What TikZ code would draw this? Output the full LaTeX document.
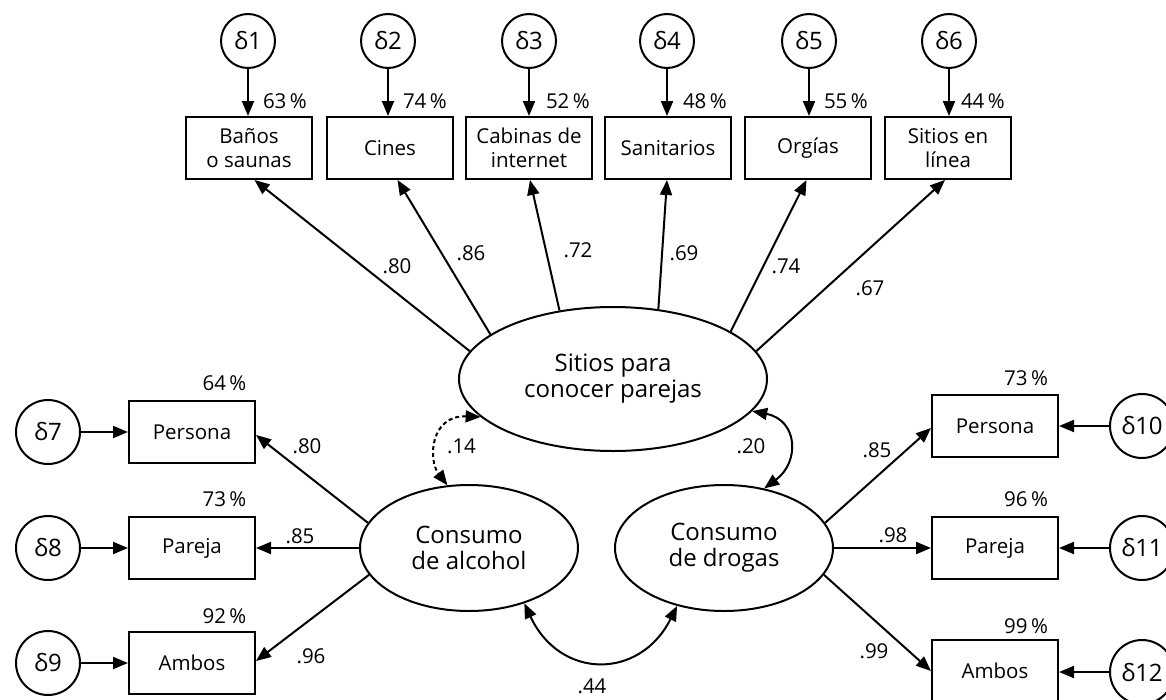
\documentclass[tikz,border=0pt]{standalone}
\usepackage{fontspec}
\setmainfont{Open Sans}
\newfontfamily\grk{Open Sans}
\usetikzlibrary{arrows.meta,shapes.geometric}
\newcommand\mytxt{\fontsize{20.5}{24.5}\selectfont}
\newcommand\bigtxt{\fontsize{24}{26}\selectfont}
\tikzset{
 obs/.style={draw, rectangle, minimum width=126pt, minimum height=62pt, inner sep=0pt, align=center, font=\mytxt},
 lat/.style={draw, ellipse, inner sep=0pt, align=center, font=\bigtxt},
 errs/.style={draw, circle, minimum size=54pt, inner sep=0pt, font=\bigtxt},
 errb/.style={draw, circle, minimum size=64pt, inner sep=0pt, font=\bigtxt},
 arr/.style={-{Triangle[length=15pt,width=12pt]}},
 darr/.style={{Triangle[length=15pt,width=12pt]}-{Triangle[length=15pt,width=12pt]}},
 lbl/.style={font=\mytxt, inner sep=0pt, anchor=base},
 pct/.style={font=\mytxt, inner sep=0pt, anchor=base west},
}
\begin{document}
\begin{tikzpicture}[x=1pt,y=-1pt,line width=2pt]
\useasboundingbox (0,0) rectangle (1166,699);
% top indicators
\node[obs] (b1) at (249,148) {Baños\\o saunas};
\node[obs] (b2) at (390,148) {Cines};
\node[obs] (b3) at (529,148) {Cabinas de\\internet};
\node[obs] (b4) at (668,148) {Sanitarios};
\node[obs] (b5) at (808,148) {Orgías};
\node[obs] (b6) at (948,148) {Sitios en\\línea};
\node[errs] (d1) at (248,41) {{\grk δ}1};
\node[errs] (d2) at (388,41) {{\grk δ}2};
\node[errs] (d3) at (529,41) {{\grk δ}3};
\node[errs] (d4) at (667,41) {{\grk δ}4};
\node[errs] (d5) at (809,41) {{\grk δ}5};
\node[errs] (d6) at (949,41) {{\grk δ}6};
\foreach \i in {1,...,6} {\draw[arr] (d\i.south) -- (d\i.south |- b\i.north);}
\node[pct] (p1) at (262,108) {63\,\%};
\node[pct] (p2) at (402,108) {74\,\%};
\node[pct] (p3) at (545,108) {52\,\%};
\node[pct] (p4) at (682,108) {48\,\%};
\node[pct] (p5) at (823,108) {55\,\%};
\node[pct] (p6) at (960,108) {44\,\%};
% latent variables
\node[lat, minimum width=308pt, minimum height=144pt] (c) at (613,379) {Sitios para\\conocer parejas};
\node[lat, minimum width=218pt, minimum height=126pt] (alc) at (469,548) {Consumo\\de alcohol};
\node[lat, minimum width=218pt, minimum height=126pt] (drg) at (724,548) {Consumo\\de drogas};
% top loadings
\draw[arr] (c.169) -- ([xshift=5.5pt]b1.south);
\draw[arr] (c.160) -- ([xshift=7.5pt]b2.south);
\draw[arr] (c.128) -- ([xshift=1pt]b3.south);
\draw[arr] (c.57) -- ([xshift=-1pt]b4.south);
\draw[arr] (c.22) -- ([xshift=-1.5pt]b5.south);
\draw[arr] (c.11) -- ([xshift=-3pt]b6.south);
\node[lbl] (t1) at (397,273) {.80};
\node[lbl] (t2) at (471,260) {.86};
\node[lbl] (t3) at (578,257) {.72};
\node[lbl] (t4) at (684,260) {.69};
\node[lbl] (t5) at (786,273) {.74};
\node[lbl] (t6) at (870,295) {.67};
% left indicators
\node[obs] (pl) at (192,432) {Persona};
\node[obs] (pp) at (192,548) {Pareja};
\node[obs] (pa) at (192,663) {Ambos};
\node[errb] (d7) at (48,432) {{\grk δ}7};
\node[errb] (d8) at (48,548) {{\grk δ}8};
\node[errb] (d9) at (48,663) {{\grk δ}9};
\draw[arr] (d7.east) -- (d7.east -| pl.west);
\draw[arr] (d8.east) -- (d8.east -| pp.west);
\draw[arr] (d9.east) -- (d9.east -| pa.west);
\node[lbl] (q1) at (224.5,390) {64\,\%};
\node[lbl] (q2) at (224.5,506.7) {73\,\%};
\node[lbl] (q3) at (224.5,623) {92\,\%};
\draw[arr] (alc.166) -- ([yshift=-3pt]pl.east);
\draw[arr] (alc.west) -- (alc.west -| pp.east);
\draw[arr] (alc.195) -- ([yshift=2pt]pa.east);
\node[lbl] (l1) at (307,453) {.80};
\node[lbl] (l2) at (300,543) {.85};
\node[lbl] (l3) at (311,663) {.96};
% right indicators
\node[obs] (rp) at (995,426) {Persona};
\node[obs] (rq) at (995,548) {Pareja};
\node[obs] (ra) at (995,671) {Ambos};
\node[errb] (d10) at (1142,426) {{\grk δ}10};
\node[errb] (d11) at (1142,548) {{\grk δ}11};
\node[errb] (d12) at (1142,672) {{\grk δ}12};
\draw[arr] (d10.west) -- (d10.west -| rp.east);
\draw[arr] (d11.west) -- (d11.west -| rq.east);
\draw[arr] (d12.west) -- (d12.west -| ra.east);
\node[lbl] (r1) at (1026,385) {73\,\%};
\node[lbl] (r2) at (1026,506.7) {96\,\%};
\node[lbl] (r3) at (1026,633) {99\,\%};
\draw[arr] (drg.14) -- ([yshift=-2pt]rp.west);
\draw[arr] (drg.east) -- (drg.east -| rq.west);
\draw[arr] (drg.-15) -- (ra.west);
\node[lbl] (m1) at (877,457) {.85};
\node[lbl] (m2) at (893,542) {.98};
\node[lbl] (m3) at (874,658) {.99};
% correlations
\draw[darr, dash pattern=on 4pt off 3pt] (c.196) .. controls (430,415) and (428,460) .. (alc.109);
\draw[darr] (c.-13) .. controls (798,420) and (800,462) .. (drg.56);
\draw[darr] (alc.-45) .. controls (560,680) and (640,680) .. (drg.231);
\node[lbl] (k1) at (461.5,453) {.14};
\node[lbl] (k2) at (751,453) {.20};
\node[lbl] (k3) at (592,693) {.44};
\end{tikzpicture}
\end{document}
